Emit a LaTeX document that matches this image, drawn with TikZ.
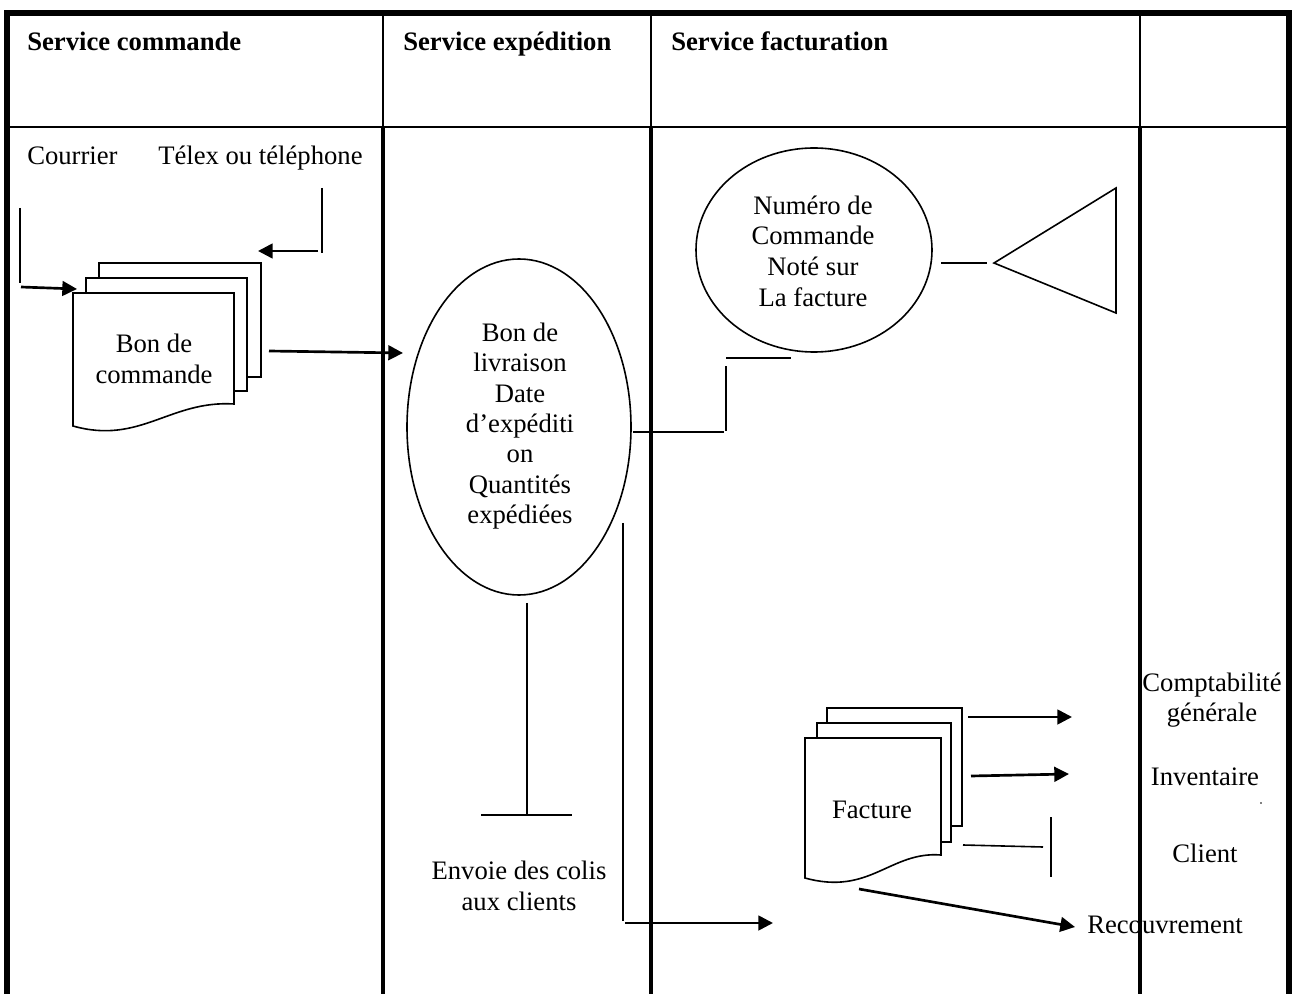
\documentclass[tikz,border=0pt]{standalone}
\usepackage{fontspec}
\setmainfont{Liberation Serif}
\usetikzlibrary{arrows.meta,shapes.geometric}
\begin{document}
\begin{tikzpicture}[x=0.75pt,y=-0.75pt,
  txt/.style={font=\fontsize{20}{23}\selectfont, inner sep=0pt, align=center},
  head/.style={font=\fontsize{20}{23}\selectfont\bfseries, inner sep=0pt, anchor=base west},
  thin/.style={line width=1.2pt},
  flow/.style={line width=2pt, -{Triangle[length=11pt,width=11pt]}},
  sheet/.style={draw, line width=1.2pt, fill=white},
  outer/.style={line width=4.2pt, line join=miter},
  lanebody/.style={line width=2.7pt},
  lanehead/.style={line width=1.8pt}]
\useasboundingbox (0,0) rectangle (1293,994);

% ---- lane headings ----
\node[head] (hcmd) at (27,51) {Service commande};
\node[head] (hexp) at (403,51) {Service expédition};
\node[head] (hfac) at (671,51) {Service facturation};

% ---- order service ----
\node[txt, anchor=base west] (courrier) at (27,165) {Courrier};
\node[txt, anchor=base west] (telex) at (158,165) {Télex ou téléphone};

\coordinate (cTop) at (20,208);
\coordinate (cBot) at (20,283);
\coordinate (cFrom) at (21,287);
\coordinate (cTo) at (77,289);
\draw[thin] (cTop) -- (cBot);
\draw[flow] (cFrom) -- (cTo);

\coordinate (tTop) at (322,188);
\coordinate (tBot) at (322,253);
\coordinate (tFrom) at (318,251);
\coordinate (tTo) at (258,251);
\draw[thin] (tTop) -- (tBot);
\draw[flow] (tFrom) -- (tTo);

% order form: stack of three sheets
\draw[sheet] (99,263) rectangle (261,377);
\draw[sheet] (86,278) rectangle (247,391);
\draw[sheet] (73,293) -- (234,293) -- (234,404)
  .. controls (170,400) and (140,445) .. (73,426) -- cycle;
\node[txt] (bon) at (154,359) {Bon de\\commande};

\coordinate (bFrom) at (269,351);
\coordinate (bTo) at (403,353);
\draw[flow] (bFrom) -- (bTo);

% ---- shipping service ----
\node[draw, ellipse, thin, inner sep=0pt, minimum width=168pt, minimum height=252pt] (livr) at (519,427) {};
\node[txt, font=\fontsize{20}{22.8}\selectfont] (livrtxt) at (520,426)
  {Bon de\\livraison\\Date\\d’expéditi\\on\\Quantités\\expédiées};

\coordinate (lA) at (633,432);
\coordinate (lB) at (724,432);
\coordinate (lC) at (726,431);
\coordinate (lD) at (726,366);
\coordinate (lE) at (726,358);
\coordinate (lF) at (791,358);
\draw[thin] (lA) -- (lB);
\draw[thin] (lC) -- (lD);
\draw[thin] (lE) -- (lF);

\coordinate (sTop) at (527,603);
\coordinate (sBot) at (527,815);
\coordinate (sL) at (481,815);
\coordinate (sR) at (572,815);
\draw[thin] (sTop) -- (sBot);
\draw[thin] (sL) -- (sR);
\node[txt] (envoi) at (519,886) {Envoie des colis\\aux clients};

\coordinate (eTop) at (623,523);
\coordinate (eBot) at (623,921);
\coordinate (eFrom) at (625,923);
\coordinate (eTo) at (773,923);
\draw[thin] (eTop) -- (eBot);
\draw[flow] (eFrom) -- (eTo);

% ---- billing service ----
\node[draw, ellipse, thin, inner sep=0pt, minimum width=177pt, minimum height=153pt] (numero) at (814,250) {};
\node[txt] (numtxt) at (813,251) {Numéro de\\Commande\\Noté sur\\La facture};

\coordinate (nA) at (941,263);
\coordinate (nB) at (987,263);
\draw[thin] (nA) -- (nB);
\coordinate (triL) at (994,263);
\coordinate (triT) at (1116,188);
\coordinate (triB) at (1116,313);
\draw[thin, line join=miter] (triL) -- (triT) -- (triB) -- cycle;

% invoice: stack of three sheets
\draw[sheet] (827,708) rectangle (962,826);
\draw[sheet] (817,723) rectangle (951,842);
\draw[sheet] (805,738) -- (941,738) -- (941,855)
  .. controls (890,851) and (870,896) .. (805,878) -- cycle;
\node[txt, anchor=base] (facture) at (872,818) {Facture};

\coordinate (f1From) at (968,717);
\coordinate (f1To) at (1072,717);
\coordinate (f2From) at (971,776);
\coordinate (f2To) at (1069,774);
\coordinate (f3From) at (963,845);
\coordinate (f3To) at (1043,847);
\coordinate (f3Top) at (1051,817);
\coordinate (f3Bot) at (1051,877);
\coordinate (f4From) at (859,889);
\coordinate (f4To) at (1075,927);
\draw[flow] (f1From) -- (f1To);
\draw[flow] (f2From) -- (f2To);
\draw[thin] (f3From) -- (f3To);
\draw[thin] (f3Top) -- (f3Bot);
\draw[flow] (f4From) -- (f4To);

% ---- destinations ----
\node[txt] (compta) at (1212,700) {Comptabilité\\générale};
\node[txt, anchor=base] (inv) at (1205,785) {Inventaire};
\node[txt, anchor=base] (client) at (1205,862) {Client};
\node[txt, anchor=base] (recouv) at (1165,933) {Recouvrement};
\fill (1261,803) circle (0.9);

% ---- swimlane grid ----
\draw[outer] (7,994) -- (7,13) -- (1289,13) -- (1289,994);
\draw[lanehead] (7,127) -- (1289,127);
\foreach \x in {383,651,1140} {
  \draw[lanehead] (\x,13) -- (\x,127);
  \draw[lanebody] (\x,127) -- (\x,994);
}
\end{tikzpicture}
\end{document}
